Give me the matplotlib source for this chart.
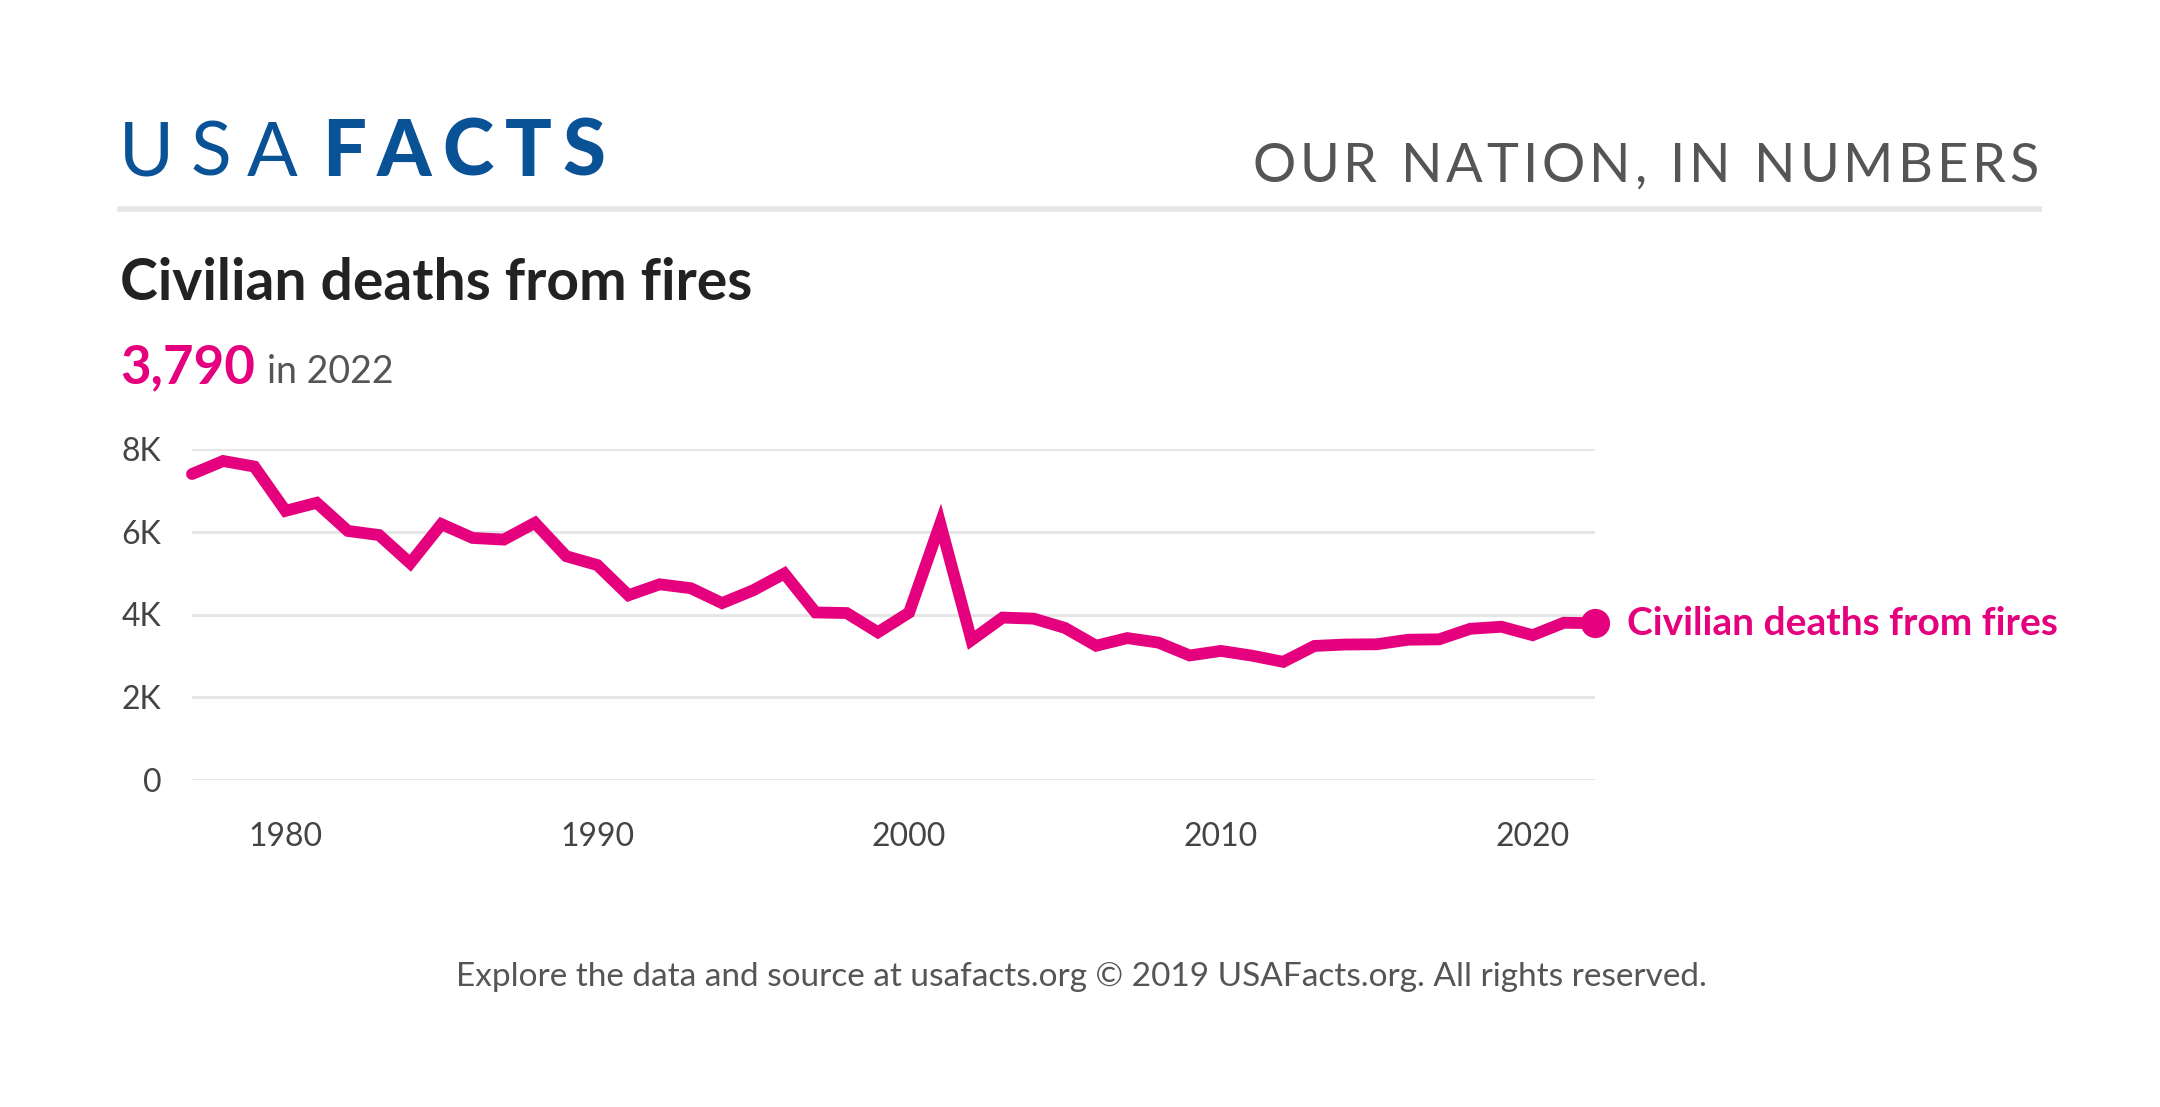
import matplotlib
matplotlib.use("Agg")
import matplotlib.pyplot as plt
from matplotlib.ticker import FuncFormatter

# data
years = list(range(1977, 2023))
deaths = [7395, 7710, 7575, 6505, 6700, 6020, 5920, 5240, 6185, 5850,
          5810, 6215, 5410, 5195, 4465, 4730, 4635, 4275, 4585, 4990,
          4050, 4035, 3570, 4045, 6196, 3380, 3925, 3900, 3675, 3245,
          3430, 3320, 3010, 3120, 3005, 2855, 3240, 3275, 3280, 3390,
          3400, 3655, 3704, 3500, 3800, 3790]
y_ticks = [0, 2000, 4000, 6000, 8000]
x_ticks = [1980, 1990, 2000, 2010, 2020]
series_name = "Civilian deaths from fires"

PINK = "#E5007D"
BLUE = "#0A5296"
W, H = 2160, 1107

plt.rcParams['font.family'] = ['Lato', 'DejaVu Sans']

fig = plt.figure(figsize=(W / 100, H / 100), dpi=100)
fig.patch.set_facecolor("white")
renderer = fig.canvas.get_renderer()


def spaced(x, y, s, track, **kw):
    # draw letter-spaced text starting at pixel x, returns end x
    for ch in s:
        if ch == " ":
            x += kw.get("size", 20) * 100 / 72 * 0.28 + track
            continue
        t = fig.text(x / W, 1 - y / H, ch, ha="left", va="baseline", **kw)
        x += t.get_window_extent(renderer).width + track
    return x


def spaced_width(s, track, **kw):
    tmp = []
    x = 0
    for ch in s:
        if ch == " ":
            x += kw.get("size", 20) * 100 / 72 * 0.28 + track
            continue
        t = fig.text(0, 0, ch, **kw)
        x += t.get_window_extent(renderer).width + track
        tmp.append(t)
    for t in tmp:
        t.remove()
    return x - track


# header
end = spaced(119, 176, "USA", 16, size=54, color=BLUE, fontweight="normal")
spaced(end + 8, 176, "FACTS", 11, size=56, color=BLUE, fontweight="black")

kw = dict(size=39, color="#555555")
wd = spaced_width("OUR NATION, IN NUMBERS", 4, **kw)
spaced(2039 - wd, 182, "OUR NATION, IN NUMBERS", 4, **kw)

fig.add_artist(plt.Line2D([120 / W, 2039 / W], [1 - 209 / H, 1 - 209 / H],
                          color="#e5e5e5", linewidth=4))

# title and headline figure
fig.text(120 / W, 1 - 300 / H, series_name, size=41, fontweight="bold",
         color="#222222", ha="left", va="baseline")
hl = fig.text(120 / W, 1 - 383 / H, f"{deaths[-1]:,}", size=38, fontweight="bold",
              color=PINK, ha="left", va="baseline")
hx = 120 + hl.get_window_extent(renderer).width + 12
fig.text(hx / W, 1 - 383 / H, f"in {years[-1]}", size=27, color="#555555",
         ha="left", va="baseline")

# chart
ax = fig.add_axes([192 / W, 1 - 780 / H, (1595 - 192) / W, (780 - 449) / H])
ax.plot(years, deaths, color=PINK, linewidth=8.5, solid_joinstyle="miter",
        solid_capstyle="round", clip_on=False, zorder=3)
ax.plot(years[-1], deaths[-1], "o", color=PINK, markersize=20, clip_on=False, zorder=4)
ax.annotate(series_name, (years[-1], deaths[-1]), xytext=(23, 0),
            textcoords="offset points", va="center", ha="left",
            color=PINK, size=28, fontweight="bold", annotation_clip=False)

ax.set_xlim(years[0], years[-1])
ax.set_ylim(0, 8000)
ax.set_yticks(y_ticks)
ax.set_xticks(x_ticks)
ax.yaxis.set_major_formatter(FuncFormatter(lambda v, p: "0" if v == 0 else f"{int(v / 1000)}K"))
ax.grid(axis="y", color="#e6e6e6", linewidth=2.2)
ax.set_axisbelow(True)
for s in ax.spines.values():
    s.set_visible(False)
ax.tick_params(axis="both", length=0, labelsize=23, labelcolor="#444444")
ax.tick_params(axis="y", pad=22)
ax.tick_params(axis="x", pad=30)

# footer
fig.text(1081 / W, 1 - 986 / H,
         "Explore the data and source at usafacts.org \u00a9 2019 USAFacts.org. All rights reserved.",
         size=24, color="#555555", ha="center", va="baseline")

fig.savefig("out.png", dpi=100, facecolor="white")
